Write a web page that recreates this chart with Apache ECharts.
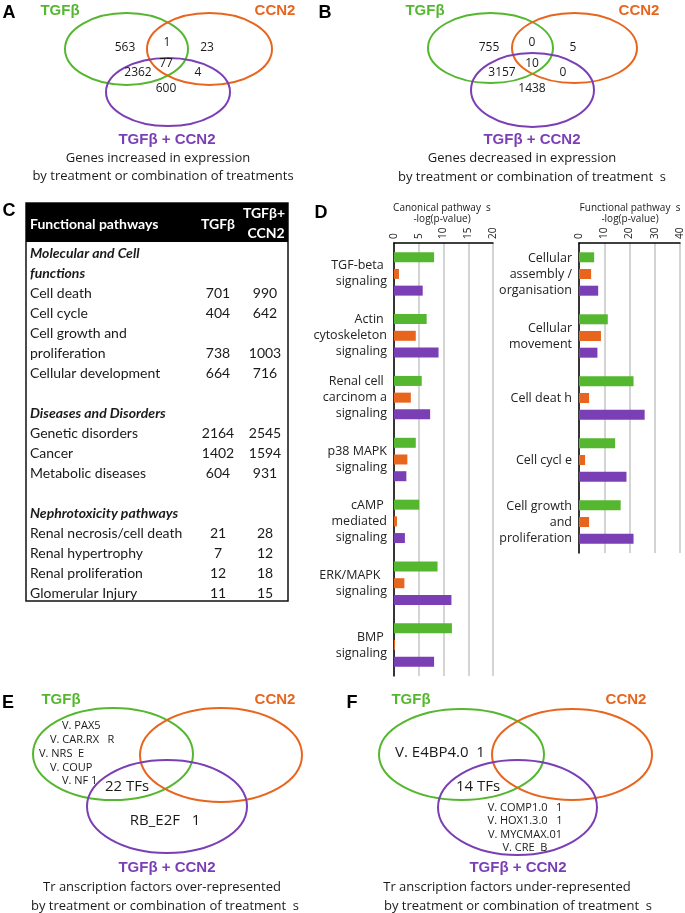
<!DOCTYPE html>
<html><head><meta charset="utf-8">
<script src="https://cdn.jsdelivr.net/npm/echarts@6/dist/echarts.min.js"></script>
<style>html,body{margin:0;padding:0;background:#fff}#c{width:685px;height:913px}</style>
</head><body><div id="c"></div>
<script>
const GREEN = '#55b72f', ORANGE = '#e8651e', PURPLE = '#7b3fb5';

// ---- Panel A / B : gene counts (regions: TGFb only, CCN2 only, combo only, TGFb&CCN2, TGFb&combo, CCN2&combo, all) ----
const regionNames = ['TGFb only', 'CCN2 only', 'Combo only', 'TGFb+CCN2', 'TGFb+Combo', 'CCN2+Combo', 'All three'];
const genesIncreased = [563, 23, 600, 1, 2362, 4, 77];
const genesDecreased = [755, 5, 1438, 0, 3157, 0, 10];

// ---- Panel C : table ----
const tableSections = ['Molecular and Cell\nfunctions', 'Diseases and Disorders', 'Nephrotoxicity pathways'];
const tableSectionSizes = [4, 3, 4];
const tablePathways = ['Cell death', 'Cell cycle', 'Cell growth and\nproliferation', 'Cellular development',
  'Genetic disorders', 'Cancer', 'Metabolic diseases',
  'Renal necrosis/cell death', 'Renal hypertrophy', 'Renal proliferation', 'Glomerular Injury'];
const tableTGFb = [701, 404, 738, 664, 2164, 1402, 604, 21, 7, 12, 11];
const tableCombo = [990, 642, 1003, 716, 2545, 1594, 931, 28, 12, 18, 15];

// ---- Panel D : -log(p-value) ----
const canonicalCategories = ['TGF-beta \nsignaling', 'Actin \ncytoskeleton\nsignaling', 'Renal cell \ncarcinom a\nsignaling',
  'p38 MAPK\nsignaling', 'cAMP \nmediated\nsignaling', 'ERK/MAPK  \nsignaling', 'BMP \nsignaling'];
const canonicalTGFb = [8.1, 6.6, 5.6, 4.4, 5.1, 8.8, 11.7];
const canonicalCCN2 = [1.0, 4.4, 3.4, 2.7, 0.6, 2.1, 0.2];
const canonicalCombo = [5.8, 9.0, 7.3, 2.5, 2.2, 11.6, 8.1];
const canonicalTicks = [0, 5, 10, 15, 20];

const functionalCategories = ['Cellular\nassembly /\norganisation', 'Cellular\nmovement', 'Cell deat h', 'Cell cycl e',
  'Cell growth\nand\nproliferation'];
const functionalTGFb = [6.0, 11.4, 21.6, 14.3, 16.5];
const functionalCCN2 = [4.8, 8.7, 4.0, 2.4, 4.0];
const functionalCombo = [7.6, 7.3, 26.0, 18.8, 21.6];
const functionalTicks = [0, 10, 20, 30, 40];

// ---- Panel E / F : transcription factors ----
const tfOverTGFb = ['V. PAX5', 'V. CAR.RX   R', 'V. NRS  E', 'V. COUP', 'V. NF 1'];
const tfOverShared = '22 TFs';
const tfOverCombo = 'RB_E2F   1';
const tfUnderTGFb = 'V. E4BP4.0  1';
const tfUnderShared = '14 TFs';
const tfUnderCombo = ['V. COMP1.0   1', 'V. HOX1.3.0   1', 'V. MYCMAX.01', 'V. CRE  B'];

const SANS = "'Open Sans', 'Noto Sans', sans-serif";
const BOLD = "'Liberation Sans', Arial, sans-serif";
const CAL = "Lato, 'Open Sans', sans-serif";

const g = [];
function txt(x, y, text, o) {
  o = o || {};
  g.push({type: 'text', z: 10, style: {
    x: x, y: y, text: text,
    fill: o.fill || '#1a1a1a',
    fontSize: o.size || 12,
    fontFamily: o.family || SANS,
    fontWeight: o.weight || 'normal',
    fontStyle: o.style || 'normal',
    align: o.align || 'center',
    verticalAlign: o.va || 'middle',
    lineHeight: o.lh || undefined
  }});
}
function ell(cx, cy, rx, ry, color) {
  g.push({type: 'ellipse', z: 5, shape: {cx: cx, cy: cy, rx: rx, ry: ry},
    style: {fill: 'none', stroke: color, lineWidth: 2}});
}
function letter(x, y, t) { txt(x, y, t, {size: 18, weight: 'bold', family: BOLD, fill: '#000'}); }

// ---- Panel A ----
letter(9, 13, 'A');
txt(60, 11, 'TGFβ', {fill: GREEN, size: 15, weight: 'bold', family: BOLD});
txt(275, 11, 'CCN2', {fill: ORANGE, size: 15, weight: 'bold', family: BOLD});
ell(126.5, 49, 61.5, 36, GREEN);
ell(209.5, 49, 62.5, 36, ORANGE);
ell(168, 92, 62, 34, PURPLE);
const posA = [[125, 48], [207, 48], [166, 89], [167, 43], [138, 73], [198, 73], [166, 64]];
genesIncreased.forEach((v, i) => txt(posA[i][0], posA[i][1], String(v), {size: 12}));
txt(167, 140, 'TGFβ + CCN2', {fill: PURPLE, size: 15, weight: 'bold', family: BOLD});
txt(158, 158, 'Genes increased in expression', {size: 13});
txt(163, 176, 'by treatment or combination of treatments', {size: 13});

// ---- Panel B ----
letter(325, 13, 'B');
txt(425, 11, 'TGFβ', {fill: GREEN, size: 15, weight: 'bold', family: BOLD});
txt(639, 11, 'CCN2', {fill: ORANGE, size: 15, weight: 'bold', family: BOLD});
ell(490.5, 48, 62.5, 35, GREEN);
ell(574.5, 48, 62.5, 35, ORANGE);
ell(532.5, 90, 61.5, 37, PURPLE);
const posB = [[489, 48], [573, 48], [532, 89], [532, 43], [502, 73], [563, 73], [532, 64]];
genesDecreased.forEach((v, i) => txt(posB[i][0], posB[i][1], String(v), {size: 12}));
txt(532, 140, 'TGFβ + CCN2', {fill: PURPLE, size: 15, weight: 'bold', family: BOLD});
txt(522, 158, 'Genes decreased in expression', {size: 13});
txt(532, 177, 'by treatment or combination of treatment  s', {size: 13});

// ---- Panel C : table ----
letter(9, 211, 'C');
const tL = 26, tR = 288, tTop = 203, tBot = 601, hBot = 242;
g.push({type: 'rect', z: 4, shape: {x: tL, y: tTop, width: tR - tL, height: tBot - tTop},
  style: {fill: '#fff', stroke: '#111', lineWidth: 1.5}});
g.push({type: 'rect', z: 5, shape: {x: tL, y: tTop, width: tR - tL, height: hBot - tTop},
  style: {fill: '#000'}});
txt(30, 224, 'Functional pathways', {fill: '#fff', size: 14, weight: 'bold', family: CAL, align: 'left'});
txt(218, 224, 'TGFβ', {fill: '#fff', size: 14, weight: 'bold', family: CAL});
txt(264, 213, 'TGFβ+', {fill: '#fff', size: 14, weight: 'bold', family: CAL});
txt(266, 233, 'CCN2', {fill: '#fff', size: 14, weight: 'bold', family: CAL});
(function () {
  let y = 253, k = 0;
  const step = 20;
  tableSections.forEach((sec, si) => {
    sec.split('\n').forEach(line => {
      txt(30, y, line, {size: 14, weight: 'bold', style: 'italic', family: CAL, align: 'left'});
      y += step;
    });
    for (let j = 0; j < tableSectionSizes[si]; j++, k++) {
      const lines = tablePathways[k].split('\n');
      lines.forEach((line, li) => {
        txt(30, y, line, {size: 14, family: CAL, align: 'left'});
        if (li === lines.length - 1) {
          txt(218, y, String(tableTGFb[k]), {size: 14, family: CAL});
          txt(265, y, String(tableCombo[k]), {size: 14, family: CAL});
        }
        y += step;
      });
    }
    y += step;
  });
})();

// ---- Panel D labels ----
letter(321, 213, 'D');
txt(442, 208, 'Canonical pathway  s', {size: 10});
txt(442, 219, '-log(p-value)', {size: 10});
txt(630, 208, 'Functional pathway  s', {size: 10});
txt(630, 219, '-log(p-value)', {size: 10});

// ---- Panel E ----
letter(8, 703, 'E');
txt(61, 700, 'TGFβ', {fill: GREEN, size: 15, weight: 'bold', family: BOLD});
txt(275, 700, 'CCN2', {fill: ORANGE, size: 15, weight: 'bold', family: BOLD});
ell(113, 754, 80, 46, GREEN);
ell(221, 755, 81, 47, ORANGE);
ell(167, 806.5, 80, 46.5, PURPLE);
const tfXE = [62, 50, 39, 50, 62];
tfOverTGFb.forEach((t, i) => txt(tfXE[i], 726 + i * 13.8, t, {size: 11, align: 'left'}));
txt(127, 787, tfOverShared, {size: 15});
txt(165, 821, tfOverCombo, {size: 15});
txt(167, 868, 'TGFβ + CCN2', {fill: PURPLE, size: 15, weight: 'bold', family: BOLD});
txt(162, 887, 'Tr anscription factors over-represented', {size: 13});
txt(165, 906, 'by treatment or combination of treatment  s', {size: 13});

// ---- Panel F ----
letter(352, 703, 'F');
txt(411, 700, 'TGFβ', {fill: GREEN, size: 15, weight: 'bold', family: BOLD});
txt(626, 700, 'CCN2', {fill: ORANGE, size: 15, weight: 'bold', family: BOLD});
ell(461.5, 754.5, 82.5, 45.5, GREEN);
ell(572, 754.5, 80, 45.5, ORANGE);
ell(517.5, 807.5, 79.5, 47.5, PURPLE);
txt(440, 753, tfUnderTGFb, {size: 15});
txt(478, 787, tfUnderShared, {size: 15});
tfUnderCombo.forEach((t, i) => txt(525, 808 + i * 13.3, t, {size: 11}));
txt(518, 868, 'TGFβ + CCN2', {fill: PURPLE, size: 15, weight: 'bold', family: BOLD});
txt(507, 887, 'Tr anscription factors under-represented', {size: 13});
txt(518, 906, 'by treatment or combination of treatment  s', {size: 13});

function valueAxis(gi, ticks) {
  return {
    gridIndex: gi, type: 'value', position: 'top',
    min: ticks[0], max: ticks[ticks.length - 1], interval: ticks[1] - ticks[0],
    axisLine: {show: true, lineStyle: {color: '#000', width: 1.5}},
    axisTick: {show: false},
    axisLabel: {rotate: -90, fontSize: 10, color: '#222', margin: 4, fontFamily: SANS},
    splitLine: {show: true, lineStyle: {color: '#c6c6c6', width: 1.5}}
  };
}
function catAxis(gi, cats) {
  return {
    gridIndex: gi, type: 'category', inverse: true, data: cats,
    axisLine: {show: true, lineStyle: {color: '#000', width: 1.5}},
    axisTick: {show: false},
    axisLabel: {fontSize: 12.5, color: '#222', lineHeight: 16, margin: 7, fontFamily: SANS, align: 'right'}
  };
}
function bars(xi, data, color) {
  return {type: 'bar', xAxisIndex: xi, yAxisIndex: xi, data: data, barWidth: 10, barGap: '67%',
    itemStyle: {color: color}, silent: true};
}

const chart = echarts.init(document.getElementById('c'), null, {renderer: 'canvas'});
chart.setOption({
  animation: false,
  backgroundColor: '#fff',
  grid: [
    {left: 394, top: 243, width: 99, height: 433},
    {left: 579, top: 243, width: 101, height: 310}
  ],
  xAxis: [valueAxis(0, canonicalTicks), valueAxis(1, functionalTicks)],
  yAxis: [catAxis(0, canonicalCategories), catAxis(1, functionalCategories)],
  series: [
    bars(0, canonicalTGFb, GREEN), bars(0, canonicalCCN2, ORANGE), bars(0, canonicalCombo, PURPLE),
    bars(1, functionalTGFb, GREEN), bars(1, functionalCCN2, ORANGE), bars(1, functionalCombo, PURPLE)
  ],
  graphic: g
});
</script>
</body></html>
